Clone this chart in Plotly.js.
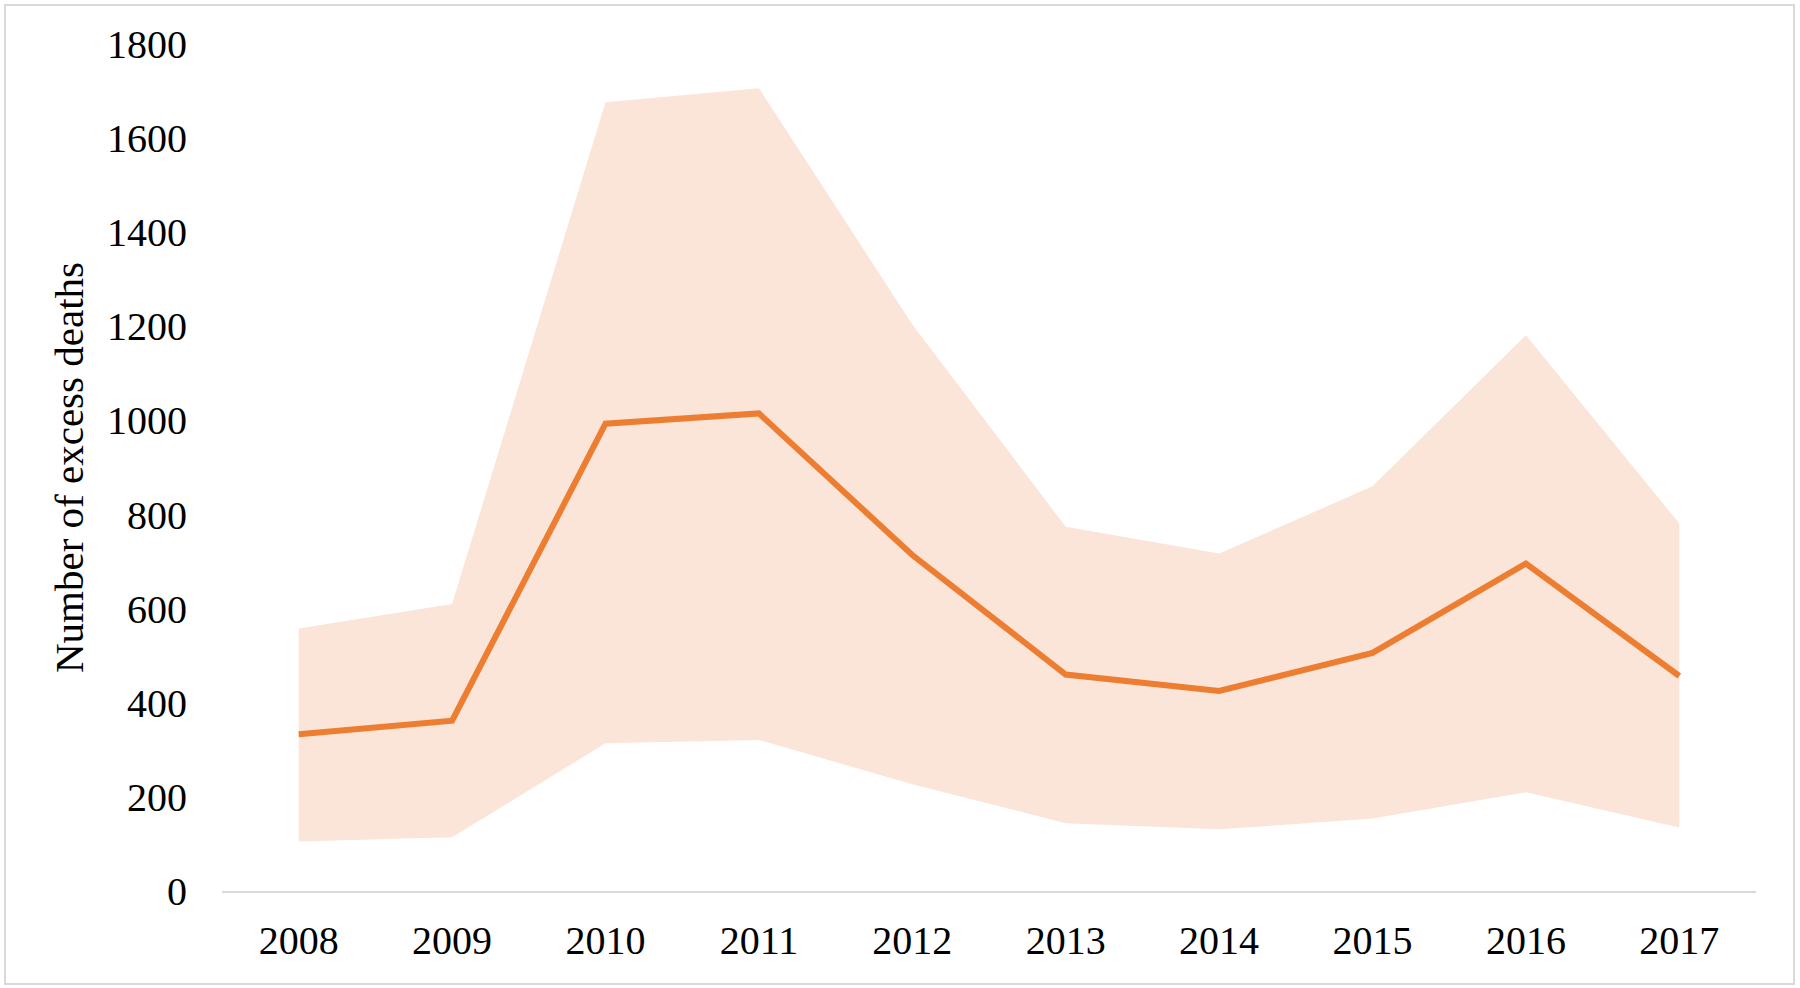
<!DOCTYPE html>
<html>
<head>
<meta charset="utf-8">
<script src="https://cdn.plot.ly/plotly-3.0.1.min.js"></script>
<style>
  html, body { margin: 0; padding: 0; background: #fff; }
  #wrap { position: relative; width: 1800px; height: 988px; }
  #chart { width: 1800px; height: 988px; }
  #frame { position: absolute; left: 4px; top: 4px; width: 1787px; height: 977px;
           border: 2px solid #d9d9d9; pointer-events: none; }
</style>
</head>
<body>
<div id="wrap">
  <div id="chart"></div>
  <div id="frame"></div>
</div>
<script>
// years on the x axis
const years = ['2008', '2009', '2010', '2011', '2012', '2013', '2014', '2015', '2016', '2017'];
// estimated number of excess deaths
const central = [333, 362, 993, 1015, 714, 460, 425, 506, 696, 457];
// confidence band
const lower = [105, 114, 314, 321, 227, 144, 131, 154, 210, 135];
const upper = [558, 610, 1676, 1706, 1204, 774, 717, 860, 1181, 781];

const yTicks = [0, 200, 400, 600, 800, 1000, 1200, 1400, 1600, 1800];

const serif = 'Liberation Serif, Times New Roman, serif';

const traces = [
    {
        x: years, y: lower,
        mode: 'lines',
        line: { width: 0, color: 'rgba(0,0,0,0)' },
        hoverinfo: 'skip',
        showlegend: false
    },
    {
        x: years, y: upper,
        mode: 'lines',
        line: { width: 0, color: 'rgba(0,0,0,0)' },
        fill: 'tonexty',
        fillcolor: '#fae5d8',
        hoverinfo: 'skip',
        showlegend: false
    },
    {
        x: years, y: central,
        mode: 'lines',
        line: { color: '#ed7d31', width: 6 },
        showlegend: false
    }
];

const layout = {
    width: 1800, height: 988,
    paper_bgcolor: '#fff', plot_bgcolor: '#fff',
    margin: { l: 222, r: 44, t: 44, b: 97 },
    font: { family: serif, size: 40, color: '#000' },
    xaxis: {
        type: 'category',
        range: [-0.5, 9.5],
        showgrid: false, zeroline: false,
        showline: true, linecolor: '#d9d9d9', linewidth: 2,
        ticks: '',
        ticklabelstandoff: 13,
        tickfont: { family: serif, size: 40, color: '#000' }
    },
    yaxis: {
        range: [0, 1800],
        tickvals: yTicks,
        ticktext: yTicks.map(String),
        showgrid: false, zeroline: false, showline: false,
        ticks: '',
        ticklabelstandoff: 34,
        tickfont: { family: serif, size: 40, color: '#000' },
        title: { text: 'Number of excess deaths', standoff: 10,
                 font: { family: serif, size: 41, color: '#000' } }
    }
};

Plotly.newPlot('chart', traces, layout, { displayModeBar: false, staticPlot: true });
</script>
</body>
</html>
